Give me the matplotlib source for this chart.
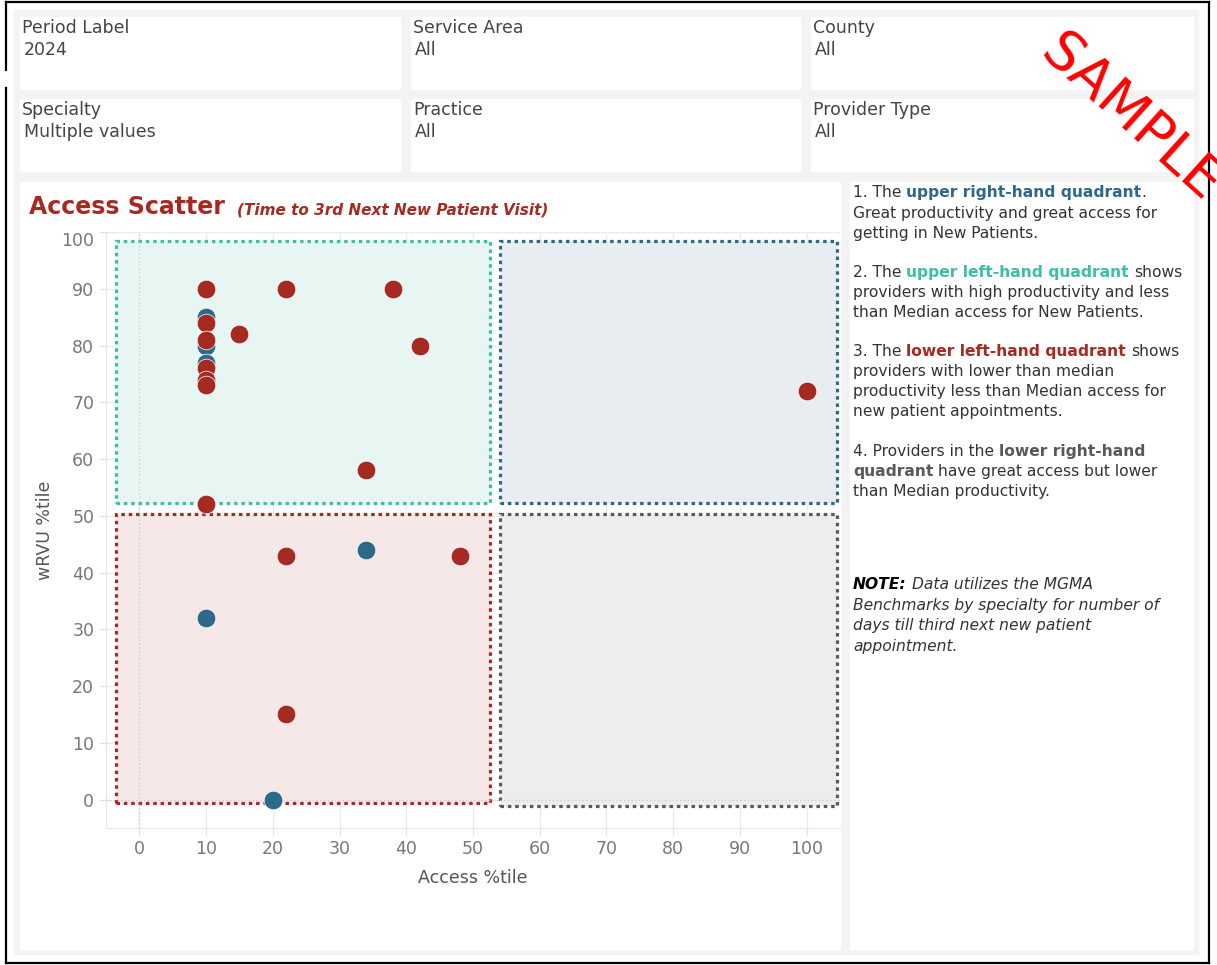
import matplotlib.pyplot as plt
from matplotlib.patches import Rectangle

W, H = 1217, 965

# filter cards
filter_labels = ["Period Label", "Service Area", "County",
                 "Specialty", "Practice", "Provider Type"]
filter_values = ["2024", "All", "All", "Multiple values", "All", "All"]

# providers (access percentile, wRVU percentile), split by colour
red_access = [10, 22, 38, 15, 42, 10, 10, 10, 10, 10, 34, 10, 100, 22, 48, 22]
red_wrvu = [90, 90, 90, 82, 80, 84, 81, 76, 74, 73, 58, 52, 72, 43, 43, 15]
blue_access = [10, 10, 10, 34, 10, 20]
blue_wrvu = [85, 80, 77, 44, 32, 0]

x_ticks = list(range(0, 101, 10))
y_ticks = list(range(0, 101, 10))

RED = "#a52a22"
BLUE = "#2d6a8a"
TEAL = "#3dbfa6"
GREY = "#595959"
TXT = "#333333"

fig = plt.figure(figsize=(W / 100, H / 100), dpi=100)
fig.patch.set_facecolor("white")

# full-figure axes in pixel units for the dashboard frame
bg = fig.add_axes([0, 0, 1, 1])
bg.set_xlim(0, W)
bg.set_ylim(H, 0)
bg.axis("off")

bg.add_patch(Rectangle((14, 10), 1184, 944, color="#f3f3f3", zorder=0))
for (x0, y0, x1, y1) in [(6, 2, 1209, 2), (1209, 2, 1209, 963), (6, 963, 1209, 963),
                         (6, 2, 6, 70), (6, 88, 6, 963)]:
    bg.plot([x0, x1], [y0, y1], color="black", lw=1.6, solid_capstyle="projecting", zorder=1)

# filter cards
card_x = [20, 411, 811]
card_w = [380, 389, 382]
card_y = [17, 99]
for i, (lab, val) in enumerate(zip(filter_labels, filter_values)):
    r, c = divmod(i, 3)
    x, y = card_x[c], card_y[r]
    bg.add_patch(Rectangle((x, y), card_w[c], 72, color="white", zorder=1))
    bg.text(x + 2, y + 11, lab, fontsize=12.5, color="#444444", va="center", zorder=2)
    bg.text(x + 4, y + 33, val, fontsize=12.5, color="#444444", va="center", zorder=2)

# chart and notes panels
bg.add_patch(Rectangle((20, 182), 820, 767, color="white", zorder=1))
bg.add_patch(Rectangle((850, 182), 343, 767, color="white", zorder=1))

bg.text(29, 207, "Access Scatter", fontsize=17, fontweight="bold", color=RED,
        va="center", zorder=2)
bg.text(237, 210, "(Time to 3rd Next New Patient Visit)", fontsize=11,
        fontweight="bold", fontstyle="italic", color=RED, va="center", zorder=2)

renderer = fig.canvas.get_renderer()


def text_width(s, **kw):
    t = bg.text(0, 0, s, **kw)
    w = t.get_window_extent(renderer).width
    t.remove()
    return w


def rich_line(x, y, parts, size=11.2):
    space = (text_width("a a", fontsize=size) - text_width("aa", fontsize=size))
    for s, color, weight, style in parts:
        if s.startswith(" "):
            x += space
            s = s.lstrip()
        t = bg.text(x, y, s.rstrip(), fontsize=size, color=color, fontweight=weight,
                    fontstyle=style, va="baseline", ha="left", zorder=3)
        x += t.get_window_extent(renderer).width
        if s.endswith(" "):
            x += space


N = "normal"
B = "bold"
I = "italic"
notes = [
    (197, [("1. The ", TXT, N, N), ("upper right-hand quadrant", BLUE, B, N), (".", TXT, N, N)]),
    (218, [("Great productivity and great access for", TXT, N, N)]),
    (238, [("getting in New Patients.", TXT, N, N)]),
    (277, [("2. The ", TXT, N, N), ("upper left-hand quadrant", TEAL, B, N), (" shows", TXT, N, N)]),
    (297, [("providers with high productivity and less", TXT, N, N)]),
    (317, [("than Median access for New Patients.", TXT, N, N)]),
    (356, [("3. The ", TXT, N, N), ("lower left-hand quadrant", RED, B, N), (" shows", TXT, N, N)]),
    (376, [("providers with lower than median", TXT, N, N)]),
    (396, [("productivity less than Median access for", TXT, N, N)]),
    (416, [("new patient appointments.", TXT, N, N)]),
    (456, [("4. Providers in the ", TXT, N, N), ("lower right-hand", GREY, B, N)]),
    (476, [("quadrant", GREY, B, N), (" have great access but lower", TXT, N, N)]),
    (496, [("than Median productivity.", TXT, N, N)]),
    (589, [("NOTE:", "black", B, I), (" Data utilizes the MGMA", TXT, N, I)]),
    (610, [("Benchmarks by specialty for number of", TXT, N, I)]),
    (630, [("days till third next new patient", TXT, N, I)]),
    (651, [("appointment.", TXT, N, I)]),
]
for y, parts in notes:
    rich_line(853, y, parts)

# scatter
ax = fig.add_axes([106 / W, (H - 828) / H, 734 / W, 596 / H])
ax.set_facecolor("none")
ax.set_xlim(-5, 105)
ax.set_ylim(-5, 100)

# quadrant zones
quadrants = [
    ((-3.5, 52.2), 56.0, 46.3, "#e8f6f3", TEAL),
    ((54.0, 52.2), 50.6, 46.3, "#e8edf1", BLUE),
    ((-3.5, -0.6), 56.0, 50.9, "#f6e8e7", RED),
    ((54.0, -1.2), 50.6, 51.5, "#ededed", GREY),
]
for xy, w, h, fc, ec in quadrants:
    ax.add_patch(Rectangle(xy, w, h, facecolor=fc, edgecolor=ec, lw=2.3,
                           linestyle=(0, (1.1, 1.2)), capstyle="butt",
                           clip_on=False, zorder=1))

ax.set_xticks(x_ticks)
ax.set_yticks(y_ticks)
ax.set_xticklabels([str(v) for v in x_ticks])
ax.set_yticklabels([str(v) for v in y_ticks])
ax.grid(True, color="#ebebeb", lw=1, zorder=0)
ax.set_axisbelow(True)
ax.axvline(0, color="#c8c8c8", lw=0.9, ls=(0, (1, 2)), zorder=2)
ax.axhline(0, color="#c8c8c8", lw=0.9, ls=(0, (1, 2)), zorder=2)

for side in ["top", "right"]:
    ax.spines[side].set_visible(False)
for side in ["left", "bottom"]:
    ax.spines[side].set_color("#e6e6e6")
ax.tick_params(colors="#e0e0e0", labelcolor="#777777", labelsize=12.5, length=5)

for lab in ax.get_yticklabels():
    if lab.get_text() == "100":
        lab.set_va("top")

ax.scatter(blue_access, blue_wrvu, s=180, color=BLUE, edgecolor="white", lw=0.5, zorder=4)
ax.scatter(red_access, red_wrvu, s=180, color=RED, edgecolor="white", lw=0.5, zorder=5)

ax.set_xlabel("Access %tile", fontsize=12.5, color="#555555", labelpad=8)
ax.set_ylabel("wRVU %tile", fontsize=12.5, color="#555555", labelpad=5)

bg.text(1130, 118, "SAMPLE", fontsize=40, color="red", rotation=-42,
        ha="center", va="center", rotation_mode="anchor", zorder=10)

fig.savefig("out.png", dpi=100)
